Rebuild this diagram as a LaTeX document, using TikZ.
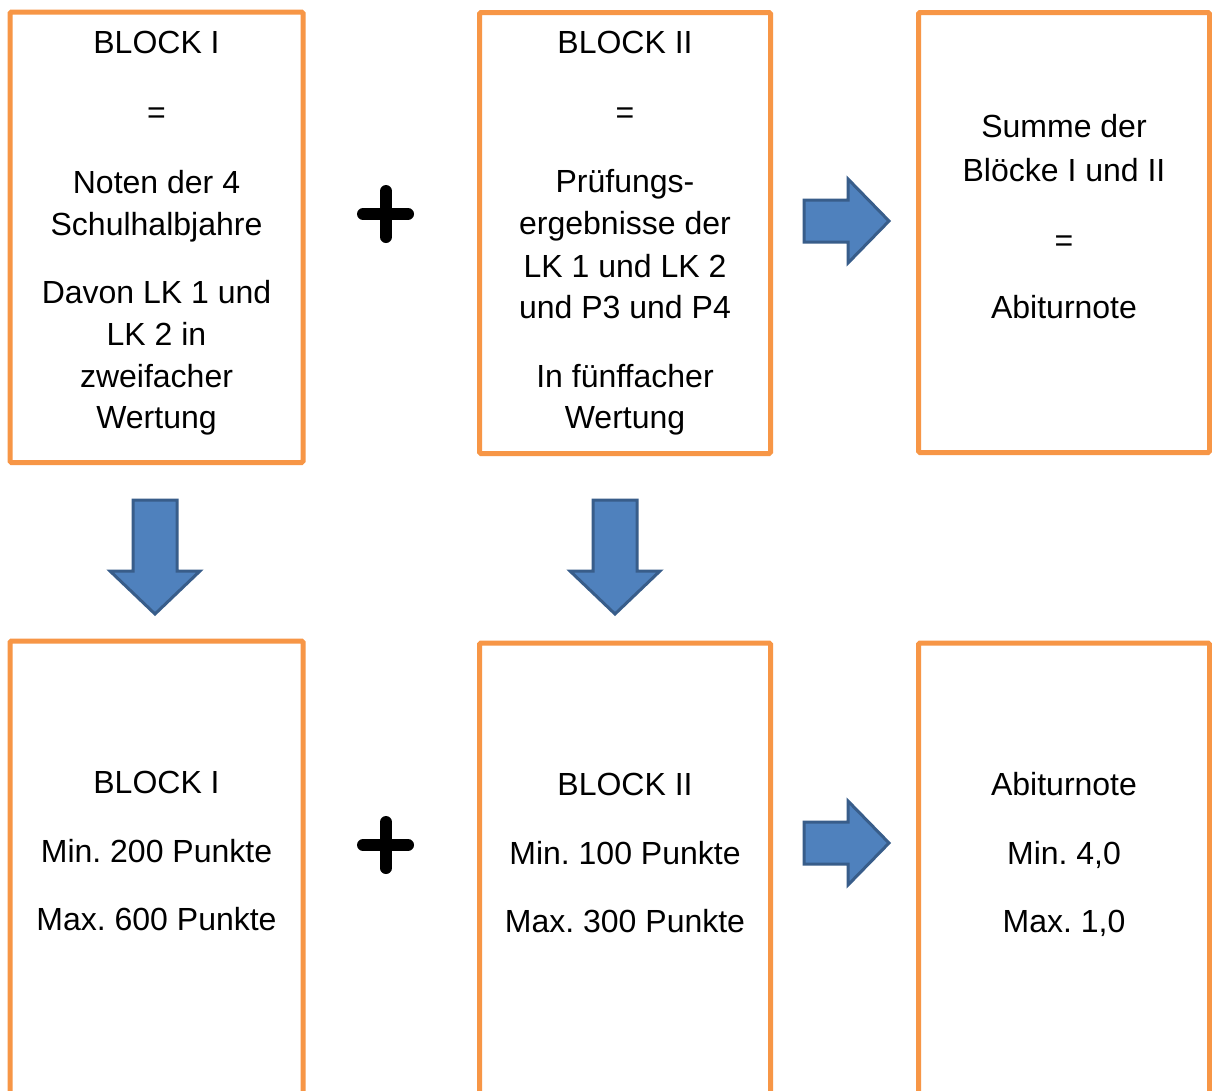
\documentclass[tikz,border=0pt]{standalone}
\usepackage{fontspec}
\setmainfont{Liberation Sans}
\definecolor{boxorange}{HTML}{F79646}
\definecolor{arrowfill}{HTML}{4F81BD}
\definecolor{arrowline}{HTML}{385D8A}
\tikzset{
  box/.style={draw=boxorange, line width=5pt, rounded corners=1.5pt, inner sep=0pt, fill=white},
  txt/.style={anchor=base, inner sep=0pt, font=\fontsize{32}{38}\selectfont\frenchspacing},
  blockarrow/.style={draw=arrowline, fill=arrowfill, line width=3pt, line join=miter},
  plussign/.style={line width=12pt, line cap=round, black}
}
\begin{document}
\frenchspacing
\begin{tikzpicture}[x=1pt,y=-1pt]
\clip (0,0) rectangle (1212,1090);
\fill[white] (0,0) rectangle (1212,1090);
% boxes
\draw[box] (10,12) rectangle (303,462.5);
\draw[box] (479.5,12.5) rectangle (770.5,453.5);
\draw[box] (918.5,12.5) rectangle (1209.5,452.5);
\draw[box] (10,641) rectangle (303,1110);
\draw[box] (479.5,643) rectangle (770.5,1110);
\draw[box] (918.5,643) rectangle (1209.5,1110);
% box 1 text
\node[txt] (a1) at (156.5,53) {BLOCK I};
\node[txt] (a2) at (156.5,123) {=};
\node[txt] (a3) at (156.5,193) {Noten der 4};
\node[txt] (a4) at (156.5,235) {Schulhalbjahre};
\node[txt] (a5) at (156.5,303) {Davon LK 1 und};
\node[txt] (a6) at (156.5,345) {LK 2 in};
\node[txt] (a7) at (156.5,387) {zweifacher};
\node[txt] (a8) at (156.5,428) {Wertung};
% box 2 text
\node[txt] (c1) at (625,53) {BLOCK II};
\node[txt] (c2) at (625,123) {=};
\node[txt] (c3) at (625,192) {Prüfungs-};
\node[txt] (c4) at (625,234) {ergebnisse der};
\node[txt] (c5) at (625,277) {LK 1 und LK 2};
\node[txt] (c6) at (625,318) {und P3 und P4};
\node[txt] (c7) at (625,387) {In fünffacher};
\node[txt] (c8) at (625,428) {Wertung};
% box 3 text
\node[txt] (d1) at (1064,137) {Summe der};
\node[txt] (d2) at (1064,181) {Blöcke I und II};
\node[txt] (d3) at (1064,251) {=};
\node[txt] (d4) at (1064,318) {Abiturnote};
% bottom boxes
\node[txt] (e1) at (156.5,793) {BLOCK I};
\node[txt] (e2) at (156.5,862) {Min. 200 Punkte};
\node[txt] (e3) at (156.5,930) {Max. 600 Punkte};
\node[txt] (f1) at (625,795) {BLOCK II};
\node[txt] (f2) at (625,864) {Min. 100 Punkte};
\node[txt] (f3) at (625,932) {Max. 300 Punkte};
\node[txt] (g1) at (1064,795) {Abiturnote};
\node[txt] (g2) at (1064,864) {Min. 4,0};
\node[txt] (g3) at (1064,932) {Max. 1,0};
% plus signs
\draw[plussign] (363,214) -- (408,214) (386,191) -- (386,237);
\draw[plussign] (363,845) -- (408,845) (386,822) -- (386,868);
% right arrows
\foreach \dy in {0,622}{
  \draw[blockarrow, yshift=-\dy pt] (804,200) -- (848,200) -- (848,179) -- (889,221) -- (848,263) -- (848,242) -- (804,242) -- cycle;
}
% down arrows
\foreach \dx in {0,460}{
  \draw[blockarrow, xshift=\dx pt] (133,500) -- (177,500) -- (177,571) -- (200,571) -- (155,614) -- (110,571) -- (133,571) -- cycle;
}
\end{tikzpicture}
\end{document}
